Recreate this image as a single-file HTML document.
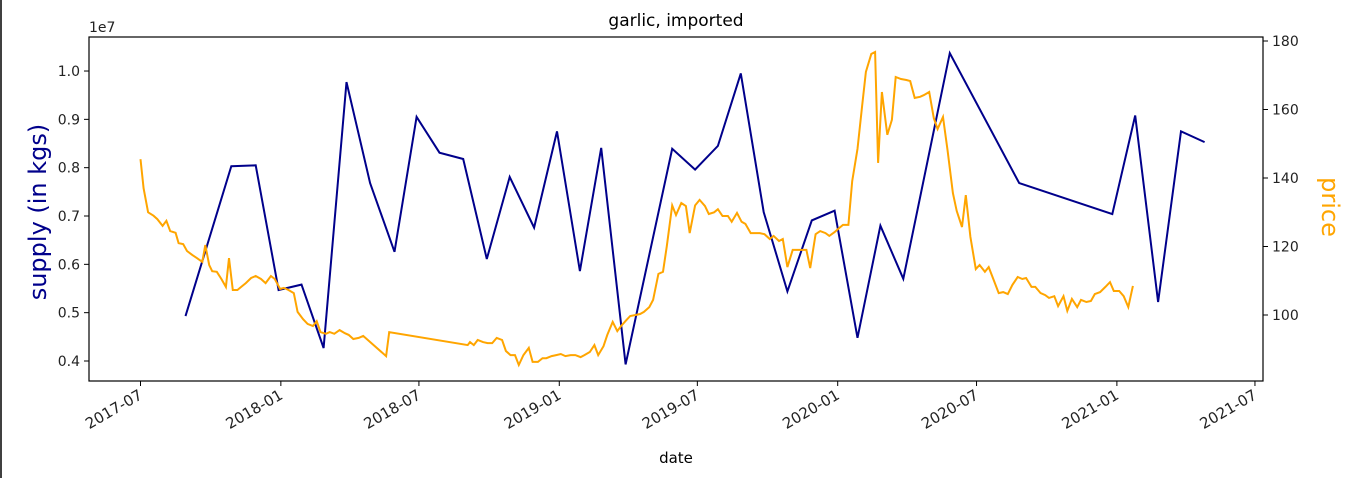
<!DOCTYPE html>
<html><head><meta charset="utf-8"><style>
html,body{margin:0;padding:0;background:#fff;}
svg{display:block;font-family:"DejaVu Sans","Liberation Sans",sans-serif;}
</style></head><body>
<svg id="chart" width="1355" height="478" viewBox="0 0 1355 478" xmlns="http://www.w3.org/2000/svg">
<line x1="1" y1="0" x2="1" y2="478" stroke="#000" stroke-width="1.5"/>
<text x="676" y="26" font-size="17" text-anchor="middle" fill="#000">garlic, imported</text>
<text x="89" y="32" font-size="14" fill="#222">1e7</text>
<text transform="translate(46,212) rotate(-90)" font-size="24" text-anchor="middle" fill="#00008b">supply (in kgs)</text>
<text transform="translate(1322,207) rotate(90)" font-size="24" text-anchor="middle" fill="#ffa500">price</text>
<text x="676" y="463" font-size="15" text-anchor="middle" fill="#000">date</text>
<g id="series"></g>
<rect x="89" y="37" width="1174" height="344" fill="none" stroke="#000" stroke-width="1.2"/>
<g id="axes"></g>
</svg>
<script>
const supplyDays=[59,119,151,181,211,240,270,301,333,362,392,423,454,484,516,546,576,604,636,697,727,757,787,817,848,880,910,940,970,1000,1061,1152,1274,1304,1334,1364,1395];
const supplyVals=[4.93,8.03,8.05,5.47,5.58,4.27,9.77,7.68,6.26,9.05,8.31,8.18,6.11,7.81,6.76,8.75,5.86,8.41,3.93,8.39,7.96,8.45,9.95,7.08,5.44,6.91,7.11,4.48,6.80,5.70,10.37,7.68,7.04,9.08,5.22,8.75,8.53];
const priceDays=[0,4,10,17,22,29,34,39,46,50,56,61,68,74,81,85,90,94,100,106,112,116,121,127,132,138,145,151,158,164,171,176,183,188,194,201,206,213,219,226,231,236,243,248,254,261,268,273,279,286,292,322,326,429,432,437,442,449,455,461,467,474,479,485,491,496,502,509,514,521,527,532,539,545,551,557,564,570,577,582,589,595,600,607,612,619,625,630,637,642,649,655,660,667,672,679,685,690,697,702,709,715,720,727,733,740,745,752,757,763,770,775,782,788,793,800,805,812,818,825,830,837,842,848,855,860,867,873,878,885,891,898,903,910,916,921,928,933,940,946,951,958,963,967,972,979,985,990,997,1004,1009,1015,1022,1027,1034,1040,1045,1052,1058,1065,1070,1077,1082,1088,1095,1100,1107,1112,1118,1125,1131,1137,1143,1150,1156,1161,1168,1173,1180,1186,1191,1198,1203,1210,1215,1221,1228,1233,1240,1246,1251,1258,1265,1271,1276,1283,1289,1295,1301];
const priceVals=[145.5,137,130,129,128,126,127.5,124.5,124,121,120.7,118.7,117.5,116.6,115.5,120.4,114.6,112.8,112.6,110.5,108.2,116.6,107.3,107.3,108.2,109.3,110.8,111.4,110.5,109.3,111.4,110.5,107.6,107.9,107.3,106.4,100.9,98.8,97.4,96.8,98.2,95,94.5,95,94.5,95.6,94.7,94.2,93,93.3,93.9,88,95,91.2,92.1,91.2,92.7,92.1,91.8,91.8,93.3,92.7,89.5,88.3,88.3,85.4,88.3,90.4,86.3,86.3,87.4,87.4,88,88.3,88.6,88,88.3,88.3,87.7,88.3,89.2,91.2,88.3,90.9,94.2,98,95.3,96.8,98.5,99.7,100,100.3,100.9,102.3,104.4,112,112.6,120.1,132,129.2,132.7,131.8,123.9,132,133.6,131.8,129.5,130,130.9,128.9,128.9,127.2,129.8,127.2,126.6,123.9,123.9,123.9,123.6,122.2,123.1,121.6,122.2,114,119,119,119,119,113.7,123.6,124.5,123.9,123.1,124.2,125.4,126.3,126.3,139.1,148.5,161,171,176.2,176.8,144.4,165.1,152.6,157,169.5,168.9,168.6,168.3,163.4,163.7,164.2,165.1,157.5,154.3,157.8,148.2,135.6,130.4,125.7,135,122.8,113.4,114.6,112.6,114,110.5,106.4,106.7,106.1,108.8,111.1,110.5,110.8,108.2,108.2,106.4,105.8,105,105.5,102.6,105.5,101.2,104.7,102.3,104.4,103.8,104.1,106.1,106.7,108.2,109.6,107,107,105.5,102.3,108.5];
const xTickDays=[0,184,365,549,730,914,1096,1280,1461];
const xTickLabels=["2017-07","2018-01","2018-07","2019-01","2019-07","2020-01","2020-07","2021-01","2021-07"];
const yTicks=[4,5,6,7,8,9,10];
const yTickLabels=["0.4","0.5","0.6","0.7","0.8","0.9","1.0"];
const y2Ticks=[100,120,140,160,180];

const NS="http://www.w3.org/2000/svg";
const X=d=>140.5+d*0.7628;
const Y=v=>361-(v-4)*48.33;
const Y2=v=>315-(v-100)*3.425;
const series=document.getElementById('series'), axes=document.getElementById('axes');
function mk(tag,attrs,parent,txt){const e=document.createElementNS(NS,tag);for(const k in attrs)e.setAttribute(k,attrs[k]);if(txt!==undefined)e.textContent=txt;parent.appendChild(e);return e;}

const pb=mk('polyline',{points:supplyDays.map((d,i)=>X(d).toFixed(1)+','+Y(supplyVals[i]).toFixed(1)).join(' '),fill:'none',stroke:'#00008b','stroke-width':2},series);


const po=mk('polyline',{points:priceDays.map((d,i)=>X(d).toFixed(1)+','+Y2(priceVals[i]).toFixed(1)).join(' '),fill:'none',stroke:'#ffa500','stroke-width':2},series);



xTickDays.forEach((d,i)=>{const x=X(d);
 const t=mk('line',{x1:x,y1:381,x2:x,y2:386,stroke:'#000'},axes);
 
 
 const l=mk('text',{transform:`translate(${x+3},${398}) rotate(-30)`,'text-anchor':'end','font-size':15,fill:'#222'},axes,xTickLabels[i]);
 
 
});
yTicks.forEach((v,i)=>{const y=Y(v);
 const t=mk('line',{x1:84,y1:y,x2:89,y2:y,stroke:'#000'},axes);
 
 
 const l=mk('text',{x:80,y:y+5,'text-anchor':'end','font-size':14,fill:'#222'},axes,yTickLabels[i]);
 
 
});
y2Ticks.forEach(v=>{const y=Y2(v);
 const t=mk('line',{x1:1263,y1:y,x2:1268,y2:y,stroke:'#000'},axes);
 
 
 const l=mk('text',{x:1272,y:y+5,'text-anchor':'start','font-size':14,fill:'#222'},axes,String(v));
 
 
});
</script>
</body></html>
